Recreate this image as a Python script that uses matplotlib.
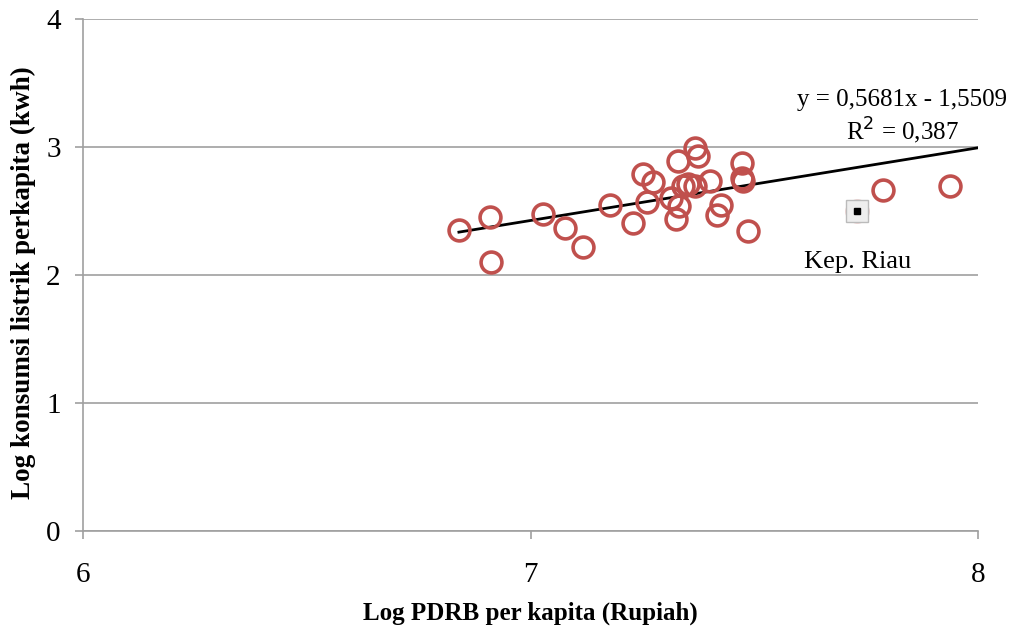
import numpy as np
import matplotlib.pyplot as plt

# data
log_pdrb = [6.840, 6.909, 6.912, 7.029, 7.077, 7.118, 7.178, 7.230, 7.251, 7.273, 7.261,
            7.330, 7.313, 7.324, 7.332, 7.340, 7.353, 7.367, 7.368, 7.374, 7.400, 7.425,
            7.416, 7.472, 7.472, 7.474, 7.487, 7.788, 7.937]
log_listrik = [2.353, 2.456, 2.104, 2.479, 2.369, 2.221, 2.544, 2.403, 2.787, 2.727, 2.570,
               2.891, 2.604, 2.434, 2.539, 2.696, 2.709, 2.696, 2.995, 2.930, 2.734, 2.544,
               2.465, 2.878, 2.761, 2.734, 2.343, 2.661, 2.693]
riau_x, riau_y = 7.730, 2.497
riau_name = 'Kep. Riau'
slope, intercept, r2 = 0.5681, -1.5509, 0.387

fig = plt.figure(figsize=(10.13, 6.29), dpi=100)
ax = fig.add_axes([0.0819, 0.1558, 0.8836, 0.8140])
font = 'Liberation Serif'

ax.plot(log_pdrb, log_listrik, 'o', mfc='none', mec='#C0504D', ms=15, mew=2.6, zorder=3)
ax.plot(riau_x, riau_y, 'o', mfc='none', mec='#E8C8C7', ms=15, mew=2.6, zorder=3)
ax.plot(riau_x, riau_y, 's', mfc='#EEEEEE', mec='#BBBBBB', ms=16, mew=1, zorder=4)
ax.plot(riau_x, riau_y, 's', color='black', ms=5, zorder=5)
ax.text(riau_x, 2.1, riau_name, ha='center', va='center', fontsize=19, family=font)

xs = np.array([min(log_pdrb), 8])
ax.plot(xs, slope * xs + intercept, color='black', lw=2, zorder=2)
ax.text(8.065, 3.37, 'y = 0,5681x - 1,5509', ha='right', va='center', fontsize=18, family=font)
ax.text(7.83, 3.13, 'R$^2$ = 0,387', ha='center', va='center', fontsize=18, family=font)

ax.set_xlim(6, 8)
ax.set_ylim(0, 4)
ax.set_xticks([6, 7, 8])
ax.set_yticks([0, 1, 2, 3, 4])
ax.yaxis.grid(True, color='#A0A0A0', lw=1.2)
ax.set_axisbelow(True)
for s in ['top', 'right']:
    ax.spines[s].set_visible(False)
for s in ['left', 'bottom']:
    ax.spines[s].set_color('#A0A0A0')
    ax.spines[s].set_linewidth(1.2)
ax.tick_params(colors='#A0A0A0', length=6, width=1.2, labelcolor='black', labelsize=21)
ax.tick_params(axis='x', pad=16)
ax.tick_params(axis='y', pad=10)
for lab in ax.get_xticklabels() + ax.get_yticklabels():
    lab.set_family(font)
ax.set_xlabel('Log PDRB per kapita (Rupiah)', fontsize=18, fontweight='bold', family=font, labelpad=10)
ax.set_ylabel('Log konsumsi listrik perkapita (kwh)', fontsize=19.5, fontweight='bold', family=font)
ax.yaxis.set_label_coords(-0.052, 0.485)

fig.savefig('out.png', dpi=100)
